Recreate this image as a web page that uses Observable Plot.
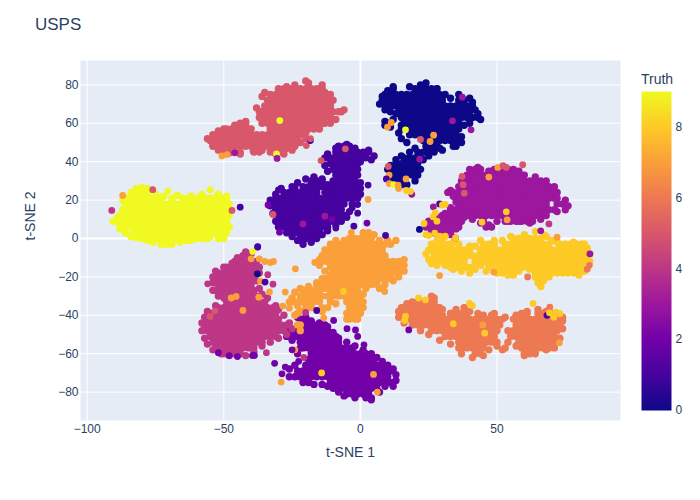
<!DOCTYPE html>
<html><head><meta charset="utf-8">
<script src="https://cdn.jsdelivr.net/npm/d3@7"></script>
<script src="https://cdn.jsdelivr.net/npm/@observablehq/plot@0.6"></script>
<style>
html,body{margin:0;padding:0;background:#fff;font-family:"Liberation Sans",Arial,sans-serif;}
#w{position:relative;width:700px;height:500px;overflow:hidden;}
#w svg{position:absolute;top:0;background:transparent;}
#t{position:absolute;left:35px;top:15px;font-size:17px;color:#2a3f5f;}
#ct{position:absolute;left:641px;top:71px;font-size:14px;color:#2a3f5f;}
</style></head><body><div id="w"><div id="t">USPS</div><div id="ct">Truth</div></div>
<script>
const plasmaStops = ["#0d0887","#46039f","#7201a8","#9c179e","#bd3786","#d8576b","#ed7953","#fb9f3a","#fdca26","#f0f921"];
const xTicks = [-100,-50,0,50];
const yTicks = [-80,-60,-40,-20,0,20,40,60,80];
const barTicks = [0,2,4,6,8];
// every row: t-SNE 2 value, then the t-SNE 1 values read along that row
const digit0 = [
[78,12,20,22,24,26,28],
[75,9,11,13,15,17,19,21,23,25,27,29],
[72,8,10,12,14,16,18,20,22,24,26,28,30,36,38],
[69,9,11,13,15,17,19,21,23,25,27,29,31,33,35,37,39,41],
[66,14,16,18,20,22,24,26,28,30,32,34,36,38,40],
[63,15,17,19,21,23,25,27,29,31,33,35,37,39,41,43],
[60,10,16,18,20,22,24,26,28,30,32,34,36],
[57,15,17,19,21,23,25,27,29,31,33],
[54,18,20,22,24,26,28,30,32,34,35],
[51,23,25,27,29,31,33,35],
[48,24,26,28,34],
[45,21,23,25,27],
[42,16,18,20,22],
[39,13,15,17,19],
[36,12,14,16,18,20],
[33,13,15,17,19],
[30,14,16]];
const digit1 = [
[48,-8,-6,-4],
[45,-9,-7,-5,-3,-1,1,3],
[42,-12,-10,-8,-6,-4,-2,0,2],
[39,-11,-9,-7,-5,-3,-1],
[36,-10,-8,-6,-4,-2],
[33,-9,-7,-5,-3],
[30,-18,-16,-14,-10,-8,-6,-4,-2],
[27,-21,-19,-17,-15,-13,-11,-9,-7,-5,-3,-1],
[24,-28,-26,-24,-22,-20,-18,-16,-12,-10,-8,-6,-4,-2],
[21,-31,-29,-27,-25,-23,-21,-19,-17,-15,-11,-9,-7,-5,-3],
[18,-32,-30,-28,-26,-24,-22,-20,-18,-16,-14,-12,-10,-8,-6],
[15,-31,-29,-27,-25,-23,-21,-19,-17,-15,-13,-11,-9,-7],
[12,-30,-28,-26,-24,-22,-20,-18,-16,-14,-12,-10,-8,-6],
[9,-29,-27,-25,-23,-21,-19,-17,-15,-13,-11,-9],
[6,-28,-26,-24,-22,-20,-18,-16,-14,-12],
[3,-25,-23,-21,-19,-17,-15],
[0,-22,-20,-18],
[-3,-21]];
const digit2 = [
[-42,-22,-20],
[-45,-21,-19,-17,-15,-13],
[-48,-24,-22,-20,-18,-16,-14,-12],
[-51,-25,-23,-21,-19,-17,-15,-13,-11,-9],
[-54,-22,-20,-18,-16,-14,-12,-10,-8],
[-57,-21,-19,-17,-15,-13,-11,-9,-7,-5,-3],
[-60,-18,-16,-14,-12,-10,-8,-6,-4,-2,0,2],
[-63,-19,-17,-15,-13,-11,-9,-7,-5,-3,-1,1,3,5],
[-66,-20,-18,-16,-14,-12,-10,-8,-6,-4,-2,0,2,4,6,8],
[-69,-23,-21,-19,-17,-15,-13,-11,-9,-7,-5,-3,-1,1,3,5,7,9,11],
[-72,-24,-22,-20,-18,-16,-14,-12,-10,-8,-6,-4,-2,0,2,4,6,8,10],
[-75,-19,-11,-9,-7,-5,-3,-1,1,3,5,7,9,11],
[-78,-10,-8,-6,-4,-2,0,2,4,6],
[-81,-5,-3,-1,1,3],
[-84,4]];
const digit3 = [
[36,40,42,44,50,52,54,56],
[33,39,41,43,45,47,49,51,53,55,57,59],
[30,38,40,42,44,46,48,50,52,54,56,58,60,62,64,66],
[27,37,39,41,43,45,47,49,51,53,55,57,59,61,63,65,67,69],
[24,34,36,38,40,42,44,46,48,50,52,54,56,58,60,62,64,66,68,70],
[21,37,39,41,43,45,47,49,51,53,55,57,59,61,63,65,67,69,71],
[18,36,38,40,42,44,46,48,50,52,54,56,58,60,62,64,66,68,72,74],
[15,33,35,37,39,41,43,45,47,49,51,53,55,57,59,61,63,65,67,69,71],
[12,30,32,34,36,38,40,42,44,46,48,50,52,54,56,58,60,62,64,66],
[9,27,29,31,33,35,37,45,53,55,57,59,61,63],
[6,26,28,30,32,34,36,46,48],
[3,27,29,31,33]];
const digit4 = [
[-9,-43,-41],
[-12,-46,-44,-42,-40],
[-15,-49,-47,-45,-43,-41,-39],
[-18,-52,-50,-48,-46,-44,-42,-40,-38],
[-21,-53,-51,-49,-47,-45,-43,-41,-39],
[-24,-52,-50,-48,-46,-44,-42,-40],
[-27,-53,-51,-49,-47,-45,-43,-41,-39],
[-30,-50,-48,-46,-44,-42,-40,-38],
[-33,-49,-47,-45,-43,-41,-39,-37,-35],
[-36,-52,-50,-48,-46,-44,-42,-40,-38,-36,-34,-32],
[-39,-55,-53,-51,-49,-47,-45,-43,-41,-39,-37,-35,-33,-31],
[-42,-56,-54,-52,-50,-48,-46,-44,-42,-40,-38,-36,-34,-32,-30],
[-45,-57,-55,-53,-51,-49,-47,-45,-43,-41,-39,-37,-35,-33,-31,-29,-27],
[-48,-56,-54,-52,-50,-48,-46,-44,-42,-40,-38,-36,-34,-32,-30,-28],
[-51,-55,-53,-51,-49,-47,-45,-43,-41,-39,-37,-35,-33,-31],
[-54,-54,-52,-50,-48,-46,-44,-42,-40,-38,-36],
[-57,-53,-51,-49,-47,-45,-43,-41,-39],
[-60,-50,-48,-46,-44]];
const digit5 = [
[81,-19],
[78,-28,-26,-24,-22,-20,-18,-16,-14],
[75,-33,-31,-29,-27,-25,-23,-21,-19,-17,-15,-13],
[72,-34,-32,-30,-28,-26,-24,-22,-20,-18,-16,-14,-12],
[69,-35,-33,-31,-29,-27,-25,-23,-21,-19,-17,-15,-13,-11],
[66,-36,-34,-32,-30,-28,-26,-24,-22,-20,-18,-16,-14,-12,-10,-8],
[63,-35,-33,-31,-29,-27,-25,-23,-21,-19,-17,-15,-13,-11],
[60,-44,-42,-34,-32,-30,-28,-26,-24,-22,-20,-18,-16,-14],
[57,-49,-47,-45,-43,-41,-33,-31,-29,-27,-25,-23,-21,-19,-17,-15],
[54,-54,-52,-50,-48,-46,-44,-42,-40,-38,-36,-34,-32,-30,-28,-26,-24,-22],
[51,-55,-53,-51,-49,-47,-45,-43,-41,-39,-37,-35,-33,-31,-29,-27,-25,-23],
[48,-54,-52,-50,-48,-46,-44,-42,-40,-38,-36,-34,-32,-30,-28,-26,-24],
[45,-50,-48,-46,-44,-39,-37,-33,-31,-29]];
const digit6 = [
[-30,26],
[-33,19,21,23,25,27],
[-36,16,18,20,22,24,26,28,38],
[-39,15,17,19,21,23,25,27,29,33,35,37,39,43,49,59,61,65,67],
[-42,16,18,20,22,24,26,28,30,32,34,36,38,40,42,44,46,48,50,52,56,58,60,62,64,66,68,70,72],
[-45,21,23,25,27,29,31,33,35,37,39,41,43,45,47,49,51,57,59,61,63,65,67,69,71,73],
[-48,26,28,30,32,34,36,38,40,42,44,46,48,50,54,56,58,60,62,64,66,68,70,72],
[-51,31,33,35,37,39,41,43,45,47,49,55,57,59,61,63,65,67,69,71],
[-54,36,38,40,42,44,46,48,50,58,60,62,64,66,68,70,72],
[-57,37,39,41,43,45,53,59,61,63,65,67,69],
[-60,42,44,60,62]];
const digit7 = [
[3,1,3],
[0,-4,-2,0,2,4],
[-3,-9,-7,-5,-3,-1,1,3,5,7,9,11],
[-6,-12,-10,-8,-6,-4,-2,0,2,4,6,8],
[-9,-13,-11,-9,-7,-5,-3,-1,1,3,5,7,9],
[-12,-14,-12,-10,-8,-6,-4,-2,0,2,4,6,8,10,12,14],
[-15,-11,-9,-7,-5,-3,-1,1,3,5,7,9,11,13,15],
[-18,-10,-8,-6,-4,-2,0,2,4,6,8,10,12,14],
[-21,-13,-11,-9,-7,-5,-3,-1,1,3,5,7,9,11],
[-24,-16,-14,-12,-10,-8,-6,-4,-2,0,2,4,6],
[-27,-21,-19,-17,-15,-11,-9,-5,-3,-1],
[-30,-22,-20,-18,-16,-14,-12,-10,-6,-4,-2,0],
[-33,-25,-23,-21,-19,-17,-15,-11,-5,-3,-1],
[-36,-20,-18,-14,-4,-2,0],
[-39,-23,-3,-1],
[-42,-4,-2],
[-45,-23,-22],
[-48,-22]];
const digit8 = [
[0,30,56,58,60,62,64,66],
[-3,27,29,31,33,45,47,49,53,55,57,59,61,63,65,67,69,73,75,77,79,81],
[-6,26,28,30,32,34,36,38,40,44,46,48,50,52,54,56,58,60,62,64,66,68,70,72,74,76,78,80,82],
[-9,27,29,31,33,35,37,39,41,43,45,47,49,51,53,55,57,59,61,63,65,67,69,71,73,75,77,79,81,83],
[-12,26,28,30,32,34,36,38,42,44,46,48,50,52,54,56,58,60,62,64,66,68,70,72,74,76,78,80,82],
[-15,33,35,37,39,41,47,49,51,53,55,57,59,61,63,65,67,69,71,73,75,77,79,81],
[-18,52,54,56,66,68,70,74,76,78,80],
[-21,65,67],
[-24,66]];
const digit9 = [
[24,-84,-82,-80,-78],
[21,-85,-83,-81,-79,-77,-75,-73,-69,-65,-63,-61,-59,-57,-55,-53,-51,-49],
[18,-86,-84,-82,-80,-78,-76,-74,-72,-70,-68,-66,-64,-62,-60,-58,-56,-54,-52,-50,-48],
[15,-87,-85,-83,-81,-79,-77,-75,-73,-71,-69,-67,-65,-63,-61,-59,-57,-55,-53,-51,-49],
[12,-88,-86,-84,-82,-80,-78,-76,-74,-72,-70,-68,-66,-64,-62,-60,-58,-56,-54,-52,-50,-48],
[9,-89,-87,-85,-83,-81,-79,-77,-75,-73,-71,-69,-67,-65,-63,-61,-59,-57,-55,-53,-51,-49],
[6,-88,-86,-84,-82,-80,-78,-76,-74,-72,-70,-68,-66,-64,-62,-60,-58,-56,-54,-52,-50,-48],
[3,-83,-81,-79,-77,-75,-73,-71,-69,-67,-65,-63,-61,-59,-57,-55,-53,-51,-49],
[0,-80,-78,-76,-74,-72,-70,-68,-66,-64,-62,-60,-58,-50],
[-3,-73,-71,-69]];
// points along each group's rim: t-SNE 1, t-SNE 2
const rim0 = [[7,70],[8,74],[10,77],[12,79],[18,79],[22,80],[24,81],[28,78],[31,75],[33,73],[36,75],[40,73],[41,71],[42,67],[43,65],[44,62],[40,60],[38,59],[36,57],[34,57],[37,53],[37,50],[35,48],[30,46],[29,47],[24,45],[20,47],[18,45],[15,43],[13,41],[11,38],[10,36],[11,33],[12,30],[13,29],[15,28],[17,28],[20,30],[21,33],[22,36],[21,39],[23,41],[25,43],[17,50],[15,52],[14,55],[15,59],[16,62],[9,61],[9,59],[11,58],[12,62],[13,65],[11,66],[9,67]];
const rim1 = [[-12,44],[-9,47],[-5,49],[-2,47],[3,46],[5,43],[4,41],[0,40],[-13,42],[-13,38],[-12,35],[-1,36],[-1,33],[0,29],[0,26],[0,23],[-1,21],[-3,18],[-4,14],[-5,11],[-7,9],[-9,7],[-12,4],[-14,2],[-16,0],[-18,-2],[-23,-1],[-25,1],[-27,3],[-30,6],[-31,9],[-32,13],[-33,17],[-33,20],[-31,23],[-29,26],[-25,27],[-23,29],[-20,31],[-17,32],[-14,31],[-24,26],[-12,28],[-13,24],[-13,21]];
const rim2 = [[-23,-41],[-20,-41],[-18,-43],[-15,-44],[-12,-46],[-10,-49],[-8,-52],[-5,-54],[-2,-56],[1,-58],[4,-60],[6,-62],[8,-64],[10,-66],[12,-68],[13,-71],[13,-74],[12,-77],[9,-77],[7,-80],[4,-83],[2,-83],[-2,-83],[-6,-82],[-8,-80],[-12,-77],[-14,-76],[-17,-76],[-21,-75],[-22,-72],[-26,-72],[-26,-68],[-24,-66],[-23,-60],[-22,-57],[-25,-53],[-27,-51],[-26,-48]];
const rim3 = [[33,25],[32,24],[36,27],[37,30],[39,32],[41,35],[43,37],[47,35],[49,36],[58,35],[60,33],[64,32],[68,30],[71,27],[72,24],[72,21],[75,20],[76,17],[75,15],[72,14],[68,12],[66,10],[62,8],[58,9],[54,9],[50,9],[47,7],[44,8],[41,10],[38,11],[36,8],[35,5],[33,2],[29,2],[26,4],[24,6],[25,9],[28,11],[31,13],[33,16],[35,19],[36,21],[34,22]];
const rim4 = [[-42,-7],[-40,-8],[-45,-10],[-47,-13],[-50,-15],[-53,-17],[-54,-20],[-54,-23],[-54,-27],[-52,-30],[-50,-31],[-53,-35],[-56,-38],[-57,-41],[-58,-44],[-58,-48],[-57,-52],[-56,-55],[-54,-58],[-51,-60],[-48,-61],[-42,-61],[-39,-59],[-36,-56],[-33,-54],[-30,-52],[-27,-50],[-25,-47],[-26,-44],[-28,-40],[-30,-37],[-31,-35],[-34,-31],[-36,-29],[-37,-26],[-38,-22],[-37,-18],[-37,-15],[-38,-12]];
const rim5 = [[-56,52],[-54,49],[-52,46],[-48,44.5],[-44,44],[-36,46],[-27,47],[-25,46],[-28,44],[-31,44],[-22,50],[-20,52],[-20,56],[-18,58],[-13,60],[-11,60],[-9,62],[-7,66],[-6,67],[-10,72],[-11,75],[-13,76],[-36,60],[-37,63],[-37,66],[-38,68],[-36,74],[-35,76],[-30,78],[-14,80],[-24,80],[-27,79],[-20,82],[-46,59],[-42,61],[-40,57],[-52,56],[-50,57]];
const rim6 = [[14,-38],[14,-41],[16,-44],[19,-45],[22,-48],[25,-50],[29,-53],[33,-55],[36,-57],[37,-60],[41,-62],[45,-61],[47,-58],[50,-56],[52,-58],[54,-54],[57,-56],[60,-61],[64,-60],[68,-58],[71,-57],[73,-52],[74,-47],[74,-43],[74,-41],[70,-39],[68,-38],[65,-37],[61,-38],[57,-40],[53,-41],[48,-40],[45,-40],[40,-38],[35,-37],[33,-39],[30,-40],[29,-36],[27,-31],[24,-34],[17,-34],[15,-36],[30,-37],[38,-36]];
const rim7 = [[2,2],[5,2],[7,-1],[10,-1],[13,-1],[-6,-1],[-9,-1],[-11,-3],[-13,-6],[-14,-9],[-15,-11],[-15,-14],[-13,-17],[-11,-19],[-14,-21],[-16,-23],[16,-11],[16,-14],[16,-17],[14,-20],[12,-22],[9,-24],[7,-26],[2,-26],[3,-23],[-1,-29],[1,-29],[1,-33],[1,-36],[-5,-39],[0,-39],[-1,-42],[-5,-42],[-24,-28],[-25,-31],[-26,-33],[-23,-35],[-22,-38],[-24,-40],[-12,-36],[-9,-34],[-8,-30],[-13,-26],[-7,-27],[-22,-26],[-19,-25],[-14,-38]];
const rim8 = [[24,-8],[25,-11],[26,-13],[28,-14],[31,-14],[34,-16],[37,-17],[40,-18],[42,-16],[44,-14],[46,-17],[50,-18],[58,-17],[62,-16],[64,-18],[72,-18],[80,-19],[82,-17],[84,-12],[84,-8],[83,-5],[82,-3],[78,-2],[72,-2],[70,-1],[68,1],[60,2],[55,1],[52,-1],[49,-1],[44,-1],[42,-4],[40,-4],[36,-3],[34,-2],[28,-1],[26,-3],[25,-6],[31,1],[29,1],[65,-23],[66,-25],[67,-22],[64,-20],[69,-20],[56,-19],[54,-19]];
const rim9 = [[-84,1],[-82,0.5],[-78,-1],[-76,-2],[-66,-2],[-64,-1],[-62,-1],[-55,1],[-52,0],[-56,0],[-75,23],[-72,22],[-67,22.5],[-62,22],[-58,23],[-52,23],[-49,22],[-90.5,9],[-89,11],[-88,5],[-87,20],[-84,22],[-86,3],[-78,26],[-82,26],[-80,26.5]];
// isolated points: t-SNE 1, t-SNE 2, truth
const strays = [
[-76,25.4,5],[-87,22.4,7],[-70.5,24.7,9],[-55,25.4,9],[-91,14.6,4],[-44,16.3,1],[-47,14.6,5],
[-29.5,61.4,9],[-30.7,44,9],[-30.5,41.7,3],[-50.7,43,7],[-48.8,43.7,7],[-39.3,45.5,5],[-14.4,40.6,5],[-19.8,48.4,5],[-18.3,51,1],[-18.3,52,5],[-19.9,55,5],[-46,44.6,3],
[16.5,56.6,9],[11.3,60.4,7],[9.9,58,7],[22,51.6,5],[26.8,53.8,7],[25.5,50.5,7],[37.3,73.6,3],[33.7,61.3,3],[40.5,56.6,3],[21.7,41.3,3],[10.2,37.5,5],[10.5,33,7],[9.5,31,1],[16.7,31,7],[10.6,28.6,7],[12.2,28,9],[13.8,27.8,7],[14,26,7],[18.8,23,3],[16.8,25,8],[18.3,24.5,8],
[37.2,32.3,5],[37.6,28,5],[38,23.6,5],[47,32,7],[50.3,37,7],[52.2,37.9,5],[53.4,37,5],[59.4,38.4,5],[53.4,13.9,8],[53.7,9.7,7],[44.5,8.5,8],[69,7.6,4],[29,18,1],[31,17.7,8],[30,17.5,8],[26.7,16.5,3],[27.4,13.4,8],[26.6,11.3,8],[28,9,8],[23.3,7.8,8],[21.6,4.7,0],[27.2,2.8,8],[24,2,8],[25,1.5,8],[34.8,0.3,3],[34.8,0.3,8],
[64,3.7,8],[67.3,2,8],[66,4,3],[72,0.7,7],[83.8,-14,6],[48.8,-17.5,7],[61.2,-20,6],[29,-19.3,7],[84,-8,3],[83,-16,6],
[21.3,-31,8],[23.8,-32,8],[39.9,-33.7,8],[41,-35,8],[63.2,-33.8,8],[69.3,-35.8,6],[68.3,-40,1],[69.2,-38.7,8],[71.6,-38.4,8],[70.8,-41,8],[73,-39.2,8],[16.5,-40.6,8],[16.2,-42.7,8],[17.7,-47.6,2],[34,-44.4,8],[44.8,-45,7],[45.5,-49.3,8],[72.8,-54.3,7],
[-55.9,-23.6,4],[-37.6,-4.3,1],[-39.4,-6.8,9],[-40,-10.6,7],[-37,-10.6,7],[-35,-12,7],[-33,-12.5,7],[-31.8,-12,7],[-37.7,-18.4,0],[-36.6,-22.2,7],[-34.9,-22.7,1],[-33.9,-18.9,4],[-32,-23.8,4],[-33.3,-27.8,7],[-27.5,-27.9,7],[-47.3,-31,7],[-45.5,-30.2,7],[-37.2,-30.6,7],[-43,-37.5,7],[-53.3,-37.7,5],[-55,-40.6,5],[-28.4,-35.2,7],[-26,-36.3,7],[-34.4,-59.5,4],[-38.8,-60.9,2],[-39.5,-61,2],[-45,-61.5,2],[-48,-61,2],[-52,-59.5,2],
[-16.7,-12.5,7],[-23.8,-15.8,7],[8.9,-27.6,7],[-13.4,-41.3,7],[-6.2,-27.6,8],[-24,-58,7],[-14.2,-70,8],[4.8,-70.8,7],[6.2,-80,7],[-29,-74.8,7],
[-31.4,-65,2],[-27.5,-67,2],[-28.7,-70.5,2],[-25,-58,2],[-22.6,-64,2],[-20.7,-62,4],[-9.8,-42.7,2],[-4.9,-47,2],[-1.8,-47.6,2],[-1,-51,2],[1.3,-55.4,2],[-16,-37.5,1],[-20,-38.5,4],
[-5.5,46.7,5],[-30,25.3,1],[-3,16,1],[-1,17.7,1],[-1,13.2,1],[-2.4,6.4,1],[-9,5.4,1],[-29.6,3.3,2],[-33.8,17.5,2],[-32,12.5,5],[-13,11.6,3],[-10.4,10,2],[-21,7.6,3],[-3.3,3,7],[-37.6,-4.5,1],[2.8,27.8,1],[2.8,20.3,7],[2.4,8,2],[9.2,1.6,1],[-3,0,7]
];

const rowSets = [digit0,digit1,digit2,digit3,digit4,digit5,digit6,digit7,digit8,digit9];
const rimSets = [rim0,rim1,rim2,rim3,rim4,rim5,rim6,rim7,rim8,rim9];
const bulk = [];
rowSets.forEach((rows,c)=>{
  rows.forEach(([y,...xs])=>xs.forEach(x=>bulk.push({x,y,c})));
  rimSets[c].forEach(([x,y])=>bulk.push({x,y,c}));
});
const single = strays.map(([x,y,c])=>({x,y,c}));

const ink = "#2a3f5f";
const colorScale = {type:"linear",domain:d3.range(10),range:plasmaStops};
const main = Plot.plot({
  width:700,height:500,marginLeft:80,marginRight:80,marginTop:60,marginBottom:80,
  style:{background:"transparent",fontFamily:'"Liberation Sans",Arial,sans-serif'},
  x:{domain:[-102.45,95.2]},
  y:{domain:[-94.8,92.7]},
  color:colorScale,
  marks:[
    Plot.frame({fill:"#E5ECF6",stroke:null}),
    Plot.ruleX(xTicks.filter(d=>d!==0),{stroke:"#fff",strokeWidth:1}),
    Plot.ruleY(yTicks.filter(d=>d!==0),{stroke:"#fff",strokeWidth:1}),
    Plot.ruleX([0],{stroke:"#fff",strokeWidth:2}),
    Plot.ruleY([0],{stroke:"#fff",strokeWidth:2}),
    Plot.dot(bulk,{x:"x",y:"y",fill:"c",r:3.7,stroke:null}),
    Plot.dot(single,{x:"x",y:"y",fill:"c",r:3.4,stroke:null}),
    Plot.axisX({ticks:xTicks,tickSize:0,tickPadding:4,label:null,fontSize:12,color:ink,tickFormat:d3.format("d")}),
    Plot.axisY({ticks:yTicks,tickSize:0,tickPadding:2,label:null,fontSize:12,color:ink,tickFormat:d3.format("d")}),
    Plot.text(["t-SNE 1"],{frameAnchor:"bottom",dy:36,fontSize:14,fill:ink}),
    Plot.text(["t-SNE 2"],{frameAnchor:"left",dx:-50,rotate:-90,fontSize:14,fill:ink})
  ]
});
main.style.left="0";
document.getElementById("w").appendChild(main);

const bar = Plot.plot({
  width:60,height:500,marginLeft:11,marginRight:19,marginTop:91,marginBottom:90,
  style:{background:"transparent",fontFamily:'"Liberation Sans",Arial,sans-serif'},
  x:{axis:null,domain:[0,1]},
  y:{domain:[0,9]},
  color:colorScale,
  marks:[
    Plot.raster({x1:0,x2:1,y1:0,y2:9,width:1,height:319,fill:(x,y)=>y}),
    Plot.axisY({anchor:"right",ticks:barTicks,tickSize:0,tickPadding:4,label:null,fontSize:12,color:ink})
  ]
});
bar.style.left="630px";
document.getElementById("w").appendChild(bar);
</script></body></html>
